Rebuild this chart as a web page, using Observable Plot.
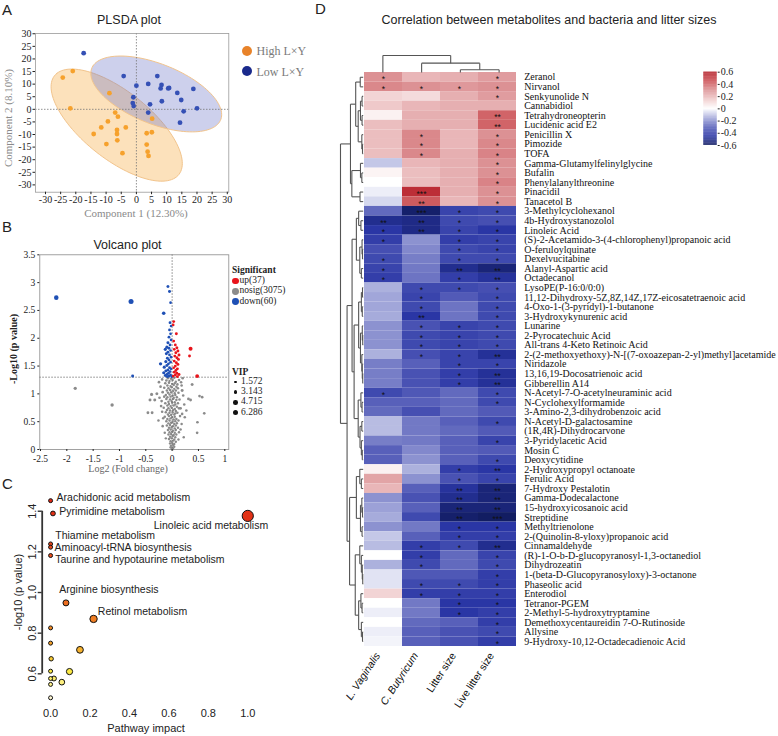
<!DOCTYPE html>
<html><head><meta charset="utf-8">
<script src="https://cdn.jsdelivr.net/npm/d3@7"></script>
<script src="https://cdn.jsdelivr.net/npm/@observablehq/plot@0.6"></script>
<style>
body{margin:0;background:#fff;}
#fig{position:relative;width:778px;height:736px;overflow:hidden;background:#fff;font-family:"Liberation Sans",Arial,sans-serif;color:#222;}
.abs{position:absolute;}
.abs svg{overflow:visible;display:block;}
.lbl{position:absolute;white-space:nowrap;line-height:1;}
</style></head><body><div id="fig"></div>
<script>
// ---------------- DATA ----------------
// Panel A: PLS-DA scores
const plsdaHigh = [[-24.3,12.6],[-21.0,15.2],[-21.8,0.4],[-8.9,6.4],[-7.0,-1.3],[-6.1,-2.9],[-9.4,-4.8],[-11.6,-7.2],[-14.1,-9.8],[-6.4,-8.2],[-6.4,-9.8],[-3.5,-7.2],[-6.3,-12.3],[-9.9,-13.8],[-4.6,-17.4],[5.2,-3.7],[5.1,-9.1],[3.4,-9.5],[3.4,-14.0],[3.7,-16.8],[4.0,-18.5]];
const plsdaLow = [[-17.4,22.3],[-4.2,13.2],[0.0,9.4],[6.9,13.2],[3.9,10.1],[8.3,9.7],[8.0,8.3],[10.5,8.3],[10.8,8.5],[13.5,6.5],[18.8,8.1],[14.8,3.7],[-1.0,4.8],[-1.2,2.5],[-0.9,1.3],[4.5,2.0],[8.4,3.2],[15.6,-0.8],[20.0,0.4],[3.9,-1.3],[14.4,-5.3]];
const plsdaTicks = [-30,-25,-20,-15,-10,-5,0,5,10,15,20,25,30];
const plsdaGroups = ["High L×Y","Low L×Y"];

// Panel B: volcano [log2FC, -log10 p, VIP]
const volcanoDown = [[-2.20,2.73,4.6],[-0.78,2.66,5.6],[-0.08,2.93,2.0],[-0.05,2.84,2.0],[-0.03,2.64,1.6],[-0.16,2.45,2.8],[-0.75,1.32,2.0],[-0.22,1.54,2.4],
[-0.04,2.28,1.8],[-0.02,2.22,1.6],[-0.05,2.15,1.7],[-0.03,2.08,1.6],[-0.06,2.02,1.8],[-0.02,1.97,1.6],[-0.08,1.92,2.0],[-0.04,1.88,1.7],[-0.10,1.84,2.2],[-0.06,1.82,1.8],[-0.13,1.80,2.2],[-0.03,1.78,1.6],[-0.08,1.75,1.9],[-0.11,1.72,2.0],[-0.05,1.70,1.7],[-0.02,1.66,1.6],[-0.09,1.64,1.9],[-0.06,1.61,1.8],[-0.12,1.58,2.1],[-0.03,1.57,1.6],[-0.07,1.54,1.8],[-0.10,1.51,2.0],[-0.15,1.48,2.2],[-0.05,1.47,1.7],[-0.02,1.45,1.6],[-0.08,1.43,1.9],[-0.12,1.41,2.0],[-0.04,1.40,1.7],[-0.16,1.38,2.1],[-0.07,1.37,1.8],[-0.10,1.35,1.9],[-0.03,1.34,1.6],[-0.13,1.33,2.0],[-0.06,1.32,1.8],[-0.01,1.31,1.6],[-0.09,1.31,1.9]];
const volcanoUp = [[0.03,2.30,1.8],[0.02,2.24,1.6],[0.08,2.08,1.9],[0.35,1.81,3.6],[0.33,1.68,1.8],[0.475,1.32,3.2],
[0.03,1.95,1.7],[0.06,1.88,1.8],[0.09,1.83,2.0],[0.04,1.80,1.7],[0.11,1.77,1.9],[0.07,1.74,1.8],[0.13,1.70,2.0],[0.05,1.68,1.7],[0.09,1.65,1.9],[0.12,1.62,1.9],[0.04,1.59,1.7],[0.08,1.56,1.8],[0.11,1.53,1.9],[0.06,1.50,1.8],[0.03,1.47,1.6],[0.10,1.45,1.9],[0.07,1.42,1.8],[0.04,1.39,1.7],[0.09,1.37,1.8],[0.13,1.35,2.0],[0.06,1.34,1.7],[0.02,1.32,1.6],[0.10,1.31,1.8]];
const volcanoNosig = [[-1.84,1.10,2.4],[-1.14,0.80,2.6],[-0.46,0.66,1.8],[-0.38,0.66,1.8],[-0.29,1.00,2.0],[0.38,1.17,2.0],[0.52,0.96,1.6],[0.31,0.91,1.8],[0.61,0.65,1.6],[0.475,0.30,1.6],[-0.39,0.99,2.2],[-0.42,0.89,2.0],[-0.33,0.89,2.0],[0.19,1.06,2.0],[0.35,0.89,1.8],[0.57,0.94,1.6],[0.48,0.49,1.6],[0.16,0.74,1.8],[0.13,1.25,1.6],[0.20,1.28,1.5],[-0.25,1.21,1.6],[-0.21,0.78,1.6],[0.24,0.58,1.5],[-0.18,0.42,1.5],[0.22,0.22,1.4],
[-0.22,1.13,1.6],[0.18,1.15,1.5],[-0.24,0.93,1.6],[0.21,0.97,1.5],[-0.19,0.68,1.5],[0.19,0.64,1.5],[0.23,0.81,1.5],[-0.17,0.56,1.4],[0.18,0.46,1.4],[-0.14,0.30,1.4],[0.16,0.36,1.4],[-0.12,0.20,1.3],[0.12,0.18,1.3],[0.27,0.70,1.5],[-0.26,0.52,1.4],[0.17,1.21,1.5],[-0.19,1.26,1.5],
[-0.08,1.28,1.4],[-0.02,1.27,1.3],[0.04,1.29,1.4],[-0.11,1.24,1.5],[-0.05,1.23,1.3],[0.01,1.25,1.3],[0.07,1.22,1.4],[-0.13,1.19,1.5],[-0.06,1.20,1.4],[0.00,1.18,1.3],[0.05,1.19,1.3],[0.10,1.17,1.5],[-0.09,1.15,1.4],[-0.03,1.14,1.3],[0.03,1.16,1.3],[0.08,1.13,1.4],[-0.15,1.11,1.5],[-0.07,1.10,1.4],[-0.01,1.12,1.3],[0.04,1.09,1.3],[0.11,1.10,1.5],[-0.10,1.06,1.4],[-0.04,1.07,1.3],[0.02,1.05,1.3],[0.07,1.06,1.4],[-0.18,1.03,1.6],[-0.08,1.02,1.4],[-0.02,1.03,1.3],[0.05,1.01,1.3],[0.12,1.02,1.5],[-0.12,0.98,1.4],[-0.05,0.99,1.3],[0.01,0.97,1.3],[0.06,0.98,1.4],[-0.15,0.95,1.5],[-0.09,0.94,1.4],[-0.03,0.95,1.3],[0.03,0.93,1.3],[0.09,0.94,1.4],[-0.11,0.91,1.4],[-0.04,0.90,1.3],[0.02,0.91,1.3],[0.08,0.89,1.4],[0.14,0.90,1.5],[-0.20,0.87,1.6],[-0.07,0.86,1.4],[-0.01,0.87,1.3],[0.05,0.85,1.3],[-0.13,0.83,1.5],[-0.06,0.82,1.3],[0.00,0.84,1.3],[0.06,0.81,1.3],[0.11,0.83,1.4],[-0.09,0.79,1.4],[-0.03,0.78,1.3],[0.03,0.79,1.3],[0.09,0.77,1.4],[-0.16,0.75,1.5],[-0.07,0.74,1.4],[-0.01,0.75,1.3],[0.05,0.73,1.3],[0.13,0.74,1.5],[-0.10,0.71,1.4],[-0.04,0.70,1.3],[0.02,0.71,1.3],[0.07,0.69,1.4],[-0.12,0.67,1.4],[-0.05,0.66,1.3],[0.01,0.67,1.3],[0.06,0.65,1.3],[0.10,0.66,1.4],[-0.08,0.63,1.3],[-0.02,0.62,1.3],[0.04,0.63,1.3],[-0.14,0.59,1.5],[-0.06,0.60,1.3],[0.00,0.58,1.3],[0.05,0.59,1.3],[0.15,0.60,1.5],[-0.09,0.55,1.4],[-0.03,0.56,1.3],[0.03,0.54,1.3],[0.08,0.55,1.4],[-0.11,0.51,1.4],[-0.05,0.52,1.3],[0.01,0.50,1.3],[0.06,0.51,1.3],[0.12,0.52,1.4],[-0.07,0.47,1.3],[-0.02,0.48,1.3],[0.04,0.46,1.3],[0.09,0.47,1.4],[-0.10,0.43,1.4],[-0.04,0.44,1.3],[0.02,0.42,1.3],[0.07,0.43,1.3],[-0.06,0.39,1.3],[-0.01,0.40,1.3],[0.05,0.38,1.3],[0.11,0.39,1.4],[-0.08,0.35,1.3],[-0.03,0.36,1.3],[0.02,0.34,1.3],[0.07,0.35,1.3],[-0.05,0.31,1.3],[0.00,0.32,1.3],[0.05,0.30,1.3],[0.13,0.31,1.4],[-0.07,0.27,1.3],[-0.02,0.28,1.3],[0.03,0.26,1.3],[0.08,0.27,1.3],[-0.04,0.23,1.3],[0.01,0.24,1.3],[0.06,0.22,1.3],[-0.06,0.19,1.3],[-0.01,0.20,1.3],[0.04,0.18,1.3],[-0.03,0.15,1.3],[0.02,0.16,1.3],[0.07,0.14,1.3],[-0.04,0.11,1.3],[0.00,0.12,1.3],[0.04,0.10,1.3],[-0.02,0.07,1.3],[0.02,0.08,1.3],[-0.03,0.04,1.3],[0.01,0.03,1.3],[0.04,0.05,1.3],[-0.01,0.01,1.3],[0.02,0.01,1.3]];
const volcanoXTicks = [-2.5,-2,-1.5,-1,-0.5,0,0.5,1];
const volcanoYTicks = [0,0.5,1,1.5,2,2.5,3,3.5];
const sigLegend = ["up(37)","nosig(3075)","down(60)"];
const vipLegend = [1.572,3.143,4.715,6.286];

// Panel C: pathway analysis
const pathNames = ["Arachidonic acid metabolism","Pyrimidine metabolism","Linoleic acid metabolism","Thiamine metabolism","Aminoacyl-tRNA biosynthesis","Taurine and hypotaurine metabolism","Arginine biosynthesis","Retinol metabolism","","","","","","","","","","",""];
const pathImpact = [0,0.012,1.0,0,0,0,0.078,0.218,0,0,0.003,0.149,0.096,0,0,0.017,0.057,0,0];
const pathLogP = [1.452,1.389,1.377,1.239,1.223,1.182,0.949,0.870,0.826,0.751,0.674,0.718,0.611,0.613,0.577,0.577,0.559,0.548,0.482];
const pathTicksX = [0,0.2,0.4,0.6,0.8,1.0];
const pathTicksY = [0.6,0.8,1.0,1.2,1.4];

// Panel D: correlation heatmap
const columns = ["L. Vaginalis","C. Butyricum","Litter size","Live litter size"];
const metabolites = ["Zeranol","Nirvanol","Senkyunolide N","Cannabidiol","Tetrahydroneopterin","Lucidenic acid E2","Penicillin X","Pimozide","TOFA","Gamma-Glutamylfelinylglycine","Bufalin","Phenylalanylthreonine","Pinacidil","Tanacetol B","3-Methylcyclohexanol","4b-Hydroxystanozolol","Linoleic Acid","(S)-2-Acetamido-3-(4-chlorophenyl)propanoic acid","O-feruloylquinate","Dexelvucitabine","Alanyl-Aspartic acid","Octadecanol","LysoPE(P-16:0/0:0)","11,12-Dihydroxy-5Z,8Z,14Z,17Z-eicosatetraenoic acid","4-Oxo-1-(3-pyridyl)-1-butanone","3-Hydroxykynurenic acid","Lunarine","2-Pyrocatechuic Acid","All-trans 4-Keto Retinoic Acid","2-(2-methoxyethoxy)-N-[(7-oxoazepan-2-yl)methyl]acetamide","Niridazole","13,16,19-Docosatrienoic acid","Gibberellin A14","N-Acetyl-7-O-acetylneuraminic acid","N-Cyclohexylformamide","3-Amino-2,3-dihydrobenzoic acid","N-Acetyl-D-galactosamine","(1R,4R)-Dihydrocarvone","3-Pyridylacetic Acid","Mosin C","Deoxycytidine","2-Hydroxypropyl octanoate","Ferulic Acid","7-Hydroxy Pestalotin","Gamma-Dodecalactone","15-hydroxyicosanoic acid","Streptidine","Methyltrienolone","2-(Quinolin-8-yloxy)propanoic acid","Cinnamaldehyde","(R)-1-O-b-D-glucopyranosyl-1,3-octanediol","Dihydrozeatin","1-(beta-D-Glucopyranosyloxy)-3-octanone","Phaseolic acid","Enterodiol","Tetranor-PGEM","2-Methyl-5-hydroxytryptamine","Demethoxycentaureidin 7-O-Rutinoside","Allysine","9-Hydroxy-10,12-Octadecadienoic Acid"];
const corrLV = [0.30,0.32,0.12,0.15,0.04,0.18,0.18,0.18,0.18,-0.10,0.03,0.00,-0.03,-0.07,-0.28,-0.50,-0.45,-0.42,-0.36,-0.38,-0.40,-0.42,-0.14,-0.16,-0.16,-0.15,-0.20,-0.20,-0.20,-0.14,-0.24,-0.24,-0.24,-0.38,-0.30,-0.28,-0.12,-0.12,-0.24,-0.30,-0.30,0.04,0.25,0.20,-0.20,-0.17,-0.15,-0.20,-0.10,-0.12,0.00,-0.14,-0.05,-0.05,0.12,0.00,-0.03,0.00,-0.03,-0.02];
const corrCB = [0.20,0.30,0.10,0.20,0.22,0.22,0.32,0.32,0.32,0.20,0.18,0.18,0.55,0.42,-0.58,-0.52,-0.52,-0.20,-0.22,-0.24,-0.25,-0.26,-0.38,-0.40,-0.38,-0.45,-0.35,-0.38,-0.38,-0.36,-0.30,-0.35,-0.35,-0.33,-0.30,-0.36,-0.25,-0.25,-0.25,-0.22,-0.20,-0.14,-0.20,-0.30,-0.35,-0.30,-0.38,-0.25,-0.30,-0.42,-0.42,-0.38,-0.33,-0.38,-0.42,-0.25,-0.25,-0.28,-0.30,-0.30];
const corrLS = [0.22,0.28,0.22,0.22,0.22,0.22,0.20,0.20,0.22,0.22,0.22,0.22,0.22,0.20,-0.40,-0.38,-0.40,-0.42,-0.38,-0.38,-0.50,-0.42,-0.38,-0.32,-0.26,-0.26,-0.40,-0.40,-0.40,-0.40,-0.40,-0.42,-0.42,-0.28,-0.28,-0.28,-0.30,-0.28,-0.30,-0.30,-0.30,-0.42,-0.35,-0.47,-0.50,-0.55,-0.58,-0.45,-0.42,-0.38,-0.28,-0.28,-0.33,-0.38,-0.42,-0.45,-0.45,-0.30,-0.35,-0.35];
const corrLLS = [0.27,0.30,0.27,0.22,0.40,0.40,0.30,0.32,0.33,0.30,0.30,0.33,0.30,0.30,-0.38,-0.36,-0.45,-0.40,-0.40,-0.38,-0.55,-0.47,-0.36,-0.38,-0.38,-0.38,-0.38,-0.38,-0.38,-0.48,-0.40,-0.48,-0.48,-0.38,-0.38,-0.32,-0.38,-0.32,-0.40,-0.32,-0.38,-0.45,-0.40,-0.55,-0.55,-0.55,-0.60,-0.45,-0.42,-0.50,-0.40,-0.38,-0.42,-0.42,-0.42,-0.45,-0.42,-0.42,-0.38,-0.42];
const sigLV = ["*","*","","","","","","","","","","","","","","**","*","*","","*","*","*","","","","","","","","","","","","*","","","","","","","","","","","","","","","","","","","","","","","","","",""];
const sigCB = ["","*","","","","","*","*","*","","","","***","**","***","**","**","","","","","","*","*","*","**","*","*","*","*","","","","","","","","","","","","","","","","","","","","*","*","*","","*","*","","","","",""];
const sigLS = ["","*","","","","","","","","","","","","","*","*","*","*","*","*","**","*","*","","","","*","*","*","*","*","*","*","","","","","","","","","*","*","**","**","**","**","*","*","*","","","","*","*","*","*","","",""];
const sigLLS = ["*","*","*","","**","**","*","*","*","*","*","*","*","*","*","*","*","*","*","*","**","**","*","*","*","*","*","*","*","**","*","**","**","*","*","","*","","*","","*","**","*","**","**","**","***","*","*","**","*","*","*","*","*","*","*","*","*","*"];
// hierarchical clustering trees: [height, left, right], leaves are indices
const colTree = [1.0, 0, [0.55, 1, [0.16, 2, 3]]];
const rowTree = [1.0,
  [0.56,
    [0.33, [0.13,0,1], [0.22, [0.12,[0.05,2,3],[0.05,4,5]], [0.06,6,[0.03,7,8]]]],
    [0.50, [0.12,9,[0.06,10,11]], [0.14,12,13]]],
  [0.71,
    [0.49,
      [0.30, [0.20,14,[0.10,15,16]], [0.15,[0.05,17,[0.03,18,19]],[0.08,20,21]]],
      [0.40,
        [0.20, [0.08,[0.03,22,23],[0.04,24,25]], [0.12,[0.04,26,[0.02,27,28]],[0.06,29,[0.04,30,[0.02,31,32]]]]],
        [0.22, [0.10,33,[0.05,34,35]], [0.14,[0.06,36,37],[0.08,38,[0.04,39,40]]]]]],
    [0.60,
      [0.30, [0.15,41,[0.08,42,43]], [0.12,[0.06,44,[0.03,45,46]],[0.05,47,48]]],
      [0.35, [0.15,49,[0.08,50,[0.04,51,[0.02,52,53]]]], [0.20,[0.10,54,[0.05,55,56]],[0.08,57,[0.03,58,59]]]]]]];
const colorbarTicks = [-0.6,-0.4,-0.2,0,0.2,0.4,0.6];

// ---------------- HELPERS ----------------
const fig = document.getElementById("fig");
const SERIF = "'Liberation Serif','Times New Roman',serif";
const SANS = "'Liberation Sans',Arial,sans-serif";
function put(node, left, top) {
  const w = document.createElement("div");
  w.className = "abs"; w.style.left = left + "px"; w.style.top = top + "px";
  w.appendChild(node); fig.appendChild(w);
}
function label(text, x, y, css = {}, anchor = "start") {
  const d = document.createElement("div");
  d.className = "lbl"; d.textContent = text;
  d.style.left = x + "px"; d.style.top = y + "px";
  d.style.transform = anchor === "middle" ? "translate(-50%,-50%)" : anchor === "end" ? "translate(-100%,-50%)" : "translate(0,-50%)";
  Object.assign(d.style, css); fig.appendChild(d); return d;
}
function swatch(x, y, r, color) {
  const d = document.createElement("div");
  d.className = "lbl";
  Object.assign(d.style, {left: (x - r) + "px", top: (y - r) + "px", width: 2*r + "px", height: 2*r + "px", borderRadius: "50%", background: color});
  fig.appendChild(d);
}
const hy = d => String(d); // hyphen minus tick labels

// confidence ellipse from covariance of scores (95%)
function confEllipse(pts, k = 2.4477, n = 120) {
  const mx = d3.mean(pts, d => d[0]), my = d3.mean(pts, d => d[1]);
  let sxx = 0, syy = 0, sxy = 0;
  for (const [x, y] of pts) { sxx += (x-mx)**2; syy += (y-my)**2; sxy += (x-mx)*(y-my); }
  const m = pts.length - 1; sxx /= m; syy /= m; sxy /= m;
  const tr = sxx + syy, det = sxx*syy - sxy*sxy, disc = Math.sqrt(tr*tr/4 - det);
  const l1 = tr/2 + disc, l2 = tr/2 - disc;
  const th = Math.atan2(l1 - sxx, sxy);
  const a = k*Math.sqrt(l1), b = k*Math.sqrt(l2);
  return d3.range(n + 1).map(i => {
    const t = 2*Math.PI*i/n;
    return [mx + a*Math.cos(t)*Math.cos(th) - b*Math.sin(t)*Math.sin(th),
            my + a*Math.cos(t)*Math.sin(th) + b*Math.sin(t)*Math.cos(th)];
  });
}

// ---------------- PANEL A ----------------
const colHigh = "#f6a12c", colLow = "#3550b5";
const plotA = Plot.plot({
  width: 240, height: 215, marginLeft: 35, marginTop: 33, marginRight: 11.7, marginBottom: 23.3,
  x: {domain: [-33.3, 30.5]}, y: {domain: [-32.9, 30.1]},
  style: {fontFamily: SERIF, fontSize: "10px", color: "#222", background: "transparent"},
  marks: [
    Plot.line(confEllipse(plsdaHigh), {x: d => d[0], y: d => d[1], fill: "#f5a83c", fillOpacity: 0.35, stroke: "#f2c48c", strokeWidth: 1}),
    Plot.line(confEllipse(plsdaLow), {x: d => d[0], y: d => d[1], fill: "#7079c8", fillOpacity: 0.35, stroke: "#f2c48c", strokeWidth: 1}),
    Plot.ruleX([0], {stroke: "#777", strokeDasharray: "1.5,1.5", strokeWidth: 0.8}),
    Plot.ruleY([0], {stroke: "#777", strokeDasharray: "1.5,1.5", strokeWidth: 0.8}),
    Plot.dot(plsdaHigh, {x: d => d[0], y: d => d[1], r: 2.4, fill: colHigh}),
    Plot.dot(plsdaLow, {x: d => d[0], y: d => d[1], r: 2.4, fill: colLow}),
    Plot.frame({stroke: "#9a9a9a", strokeWidth: 0.8}),
    Plot.axisX({ticks: plsdaTicks, tickFormat: hy, tickSize: 2.5, tickPadding: 1.5, label: null}),
    Plot.axisY({ticks: plsdaTicks, tickFormat: hy, tickSize: 2.5, tickPadding: 1.5, label: null})
  ]
});
put(plotA, 0, 0);
label("A", 2, 9, {fontSize: "15px", fontFamily: SANS});
label("PLSDA plot", 129, 20, {fontSize: "12.5px", fontFamily: SANS}, "middle");
label("Component 1 (12.30%)", 136, 213, {fontSize: "11px", fontFamily: SERIF, color: "#8a8a8a"}, "middle");
const yA = label("Component 2 (8.10%)", 8, 118, {fontSize: "11px", fontFamily: SERIF, color: "#8a8a8a"}, "middle");
yA.style.transform = "translate(-50%,-50%) rotate(-90deg)";
swatch(246.7, 50.7, 5.2, "#e8832a");
swatch(246.7, 71, 5.2, "#1a2a8c");
label(plsdaGroups[0], 256.5, 51, {fontSize: "12px", fontFamily: SERIF, color: "#7a7a7a"});
label(plsdaGroups[1], 256.5, 71.5, {fontSize: "12px", fontFamily: SERIF, color: "#7a7a7a"});

// ---------------- PANEL B ----------------
const colUp = "#e8141b", colNo = "#8b8b8b", colDown = "#1f50b5";
const rScaleB = {type: "sqrt", domain: [0, 7], range: [0, 2.8]};
const plotB = Plot.plot({
  width: 240, height: 245, marginLeft: 39.3, marginTop: 24.3, marginRight: 11.7, marginBottom: 26,
  x: {domain: [-2.513, 1.076]}, y: {domain: [0, 3.5]}, r: rScaleB,
  style: {fontFamily: SERIF, fontSize: "9.5px", color: "#222", background: "transparent"},
  marks: [
    Plot.dot(volcanoNosig, {x: d => d[0], y: d => d[1], r: d => d[2], fill: colNo}),
    Plot.ruleY([1.3], {stroke: "#666", strokeDasharray: "1.5,1.5", strokeWidth: 0.8}),
    Plot.ruleX([0], {stroke: "#666", strokeDasharray: "1.5,1.5", strokeWidth: 0.8}),
    Plot.dot(volcanoDown, {x: d => d[0], y: d => d[1], r: d => d[2], fill: colDown}),
    Plot.dot(volcanoUp, {x: d => d[0], y: d => d[1], r: d => d[2], fill: colUp}),
    Plot.frame({stroke: "#8a8a8a", strokeWidth: 0.8}),
    Plot.axisX({ticks: volcanoXTicks, tickFormat: hy, tickSize: 2, tickPadding: 4, label: null}),
    Plot.axisY({ticks: volcanoYTicks, tickFormat: hy, tickSize: 2, tickPadding: 2.5, label: null})
  ]
});
put(plotB, 0, 230);
label("B", 2, 226, {fontSize: "15px", fontFamily: SANS});
label("Volcano plot", 127.5, 245, {fontSize: "12.5px", fontFamily: SANS}, "middle");
label("Log2 (Fold change)", 128, 469, {fontSize: "10px", fontFamily: SERIF, color: "#666"}, "middle");
const yB = label("-Log10 (p value)", 14, 349, {fontSize: "10px", fontFamily: SERIF, fontWeight: "bold"}, "middle");
yB.style.transform = "translate(-50%,-50%) rotate(-90deg)";
label("Significant", 232, 271, {fontSize: "9.5px", fontFamily: SERIF, fontWeight: "bold"});
[colUp, colNo, colDown].forEach((c, i) => {
  const y = 281 + i * 10.3;
  swatch(235.5, y, 3.4, c);
  label(sigLegend[i], 239.5, y, {fontSize: "9.5px", fontFamily: SERIF});
});
label("VIP", 232, 372.5, {fontSize: "9.5px", fontFamily: SERIF, fontWeight: "bold"});
vipLegend.forEach((v, i) => {
  const y = 382 + i * 10.2;
  swatch(235.5, y, Math.sqrt(v / 7) * 2.8, "#111");
  label(String(v), 241, y, {fontSize: "9.5px", fontFamily: SERIF});
});

// ---------------- PANEL C ----------------
const pathways = pathNames.map((n, i) => ({name: n, impact: pathImpact[i], logp: pathLogP[i]}));
const labelNudge = [[6,-2.7,"start"],[6.3,-2,"start"],[20.4,9.7,"end"],[4.7,-8.6,"start"],[4,0.6,"start"],[4.7,4.2,"start"],[-6.7,-13,"start"],[4.3,-7.3,"start"]];
const xdomC = [-0.0425, 1.06];
const plotC = Plot.plot({
  width: 330, height: 256, marginLeft: 41.7, marginTop: 10.4, marginRight: 70.9, marginBottom: 32.2,
  x: {domain: xdomC}, y: {domain: [0.45, 1.5]},
  r: {type: "sqrt", domain: [0, 1], range: [2, 5.6]},
  color: {type: "linear", domain: [0.5, 0.62, 0.75, 0.9, 1.45], range: ["#fff6c0", "#fbe83a", "#f5a12a", "#ee7420", "#e02814"]},
  style: {fontFamily: SANS, fontSize: "11px", color: "#222", background: "transparent"},
  marks: [
    Plot.ruleX([xdomC[0]], {y1: pathTicksY[0], y2: pathTicksY[pathTicksY.length - 1], stroke: "#333", strokeWidth: 1.8}),
    Plot.axisY({ticks: pathTicksY, tickFormat: () => "", tickSize: 4, label: null, stroke: "#333", strokeWidth: 1.4}),
    Plot.text(pathTicksY, {x: xdomC[0], y: d => d, text: d => d3.format(".1f")(d), rotate: -90, dx: -10, textAnchor: "middle", fontSize: 11}),
    Plot.axisX({ticks: pathTicksX, tickFormat: ".1f", tickSize: 0, tickPadding: 5, label: null}),
    Plot.dot(pathways, {x: "impact", y: "logp", r: "impact", fill: "logp", stroke: "#111", strokeWidth: 1}),
    ...labelNudge.map(([dx, dy, a], i) => Plot.text([pathways[i]], {x: "impact", y: "logp", text: "name", dx, dy, textAnchor: a, fontSize: 10.5, fill: "#222"}))
  ]
});
put(plotC, 0, 480);
label("C", 2, 483, {fontSize: "15px", fontFamily: SANS});
label("Pathway impact", 146, 728, {fontSize: "11px", fontFamily: SANS}, "middle");
const yC = label("-log10  (p value)", 17.5, 592, {fontSize: "11px", fontFamily: SANS}, "middle");
yC.style.transform = "translate(-50%,-50%) rotate(-90deg)";

// ---------------- PANEL D ----------------
const heatColor = {type: "linear", domain: [-0.6, -0.45, -0.3, -0.15, 0, 0.15, 0.3, 0.45, 0.6],
  range: ["#121d62", "#2a36a5", "#5860ba", "#a6abdb", "#ffffff", "#efc9ca", "#dc9194", "#cb4d52", "#b41f29"], interpolate: "rgb"};
const corrCols = [corrLV, corrCB, corrLS, corrLLS];
const sigCols = [sigLV, sigCB, sigLS, sigLLS];
const cells = [];
metabolites.forEach((m, i) => columns.forEach((c, j) => cells.push({met: m, col: c, v: corrCols[j][i], s: sigCols[j][i]})));
const italicCols = columns.slice(0, 2), plainCols = columns.slice(2);
const plotD = Plot.plot({
  width: 448, height: 696, marginTop: 32, marginBottom: 90, marginLeft: 32.7, marginRight: 260.3,
  x: {domain: columns, padding: 0, axis: null}, y: {domain: metabolites, padding: 0, axis: null},
  color: heatColor,
  style: {fontFamily: SERIF, fontSize: "10px", color: "#111", background: "transparent"},
  marks: [
    Plot.cell(cells, {x: "col", y: "met", fill: "v"}),
    Plot.text(cells.filter(d => d.s), {x: "col", y: "met", text: "s", fontSize: 8.5, fontFamily: SANS, dy: 2.2, fill: "#111"}),
    Plot.axisY({anchor: "right", tickSize: 0, tickPadding: 6, label: null, fontSize: 10}),
    Plot.text(italicCols, {x: d => d, frameAnchor: "bottom", text: d => d, rotate: -57, textAnchor: "end", dy: 9, dx: -3, fontStyle: "italic", fontFamily: SANS, fontSize: 10.5}),
    Plot.text(plainCols, {x: d => d, frameAnchor: "bottom", text: d => d, rotate: -57, textAnchor: "end", dy: 9, dx: -3, fontFamily: SANS, fontSize: 10.5})
  ]
});
put(plotD, 330, 40);

function treeSegments(tree) {
  const segs = [];
  (function walk(node) {
    if (typeof node === "number") return {pos: node, h: 0};
    const [h, L, R] = node;
    const l = walk(L), r = walk(R);
    segs.push({p1: l.pos, h1: l.h, p2: l.pos, h2: h});
    segs.push({p1: r.pos, h1: r.h, p2: r.pos, h2: h});
    segs.push({p1: l.pos, h1: h, p2: r.pos, h2: h});
    return {pos: (l.pos + r.pos) / 2, h};
  })(tree);
  return segs;
}
const rowDendro = Plot.plot({
  width: 32.7, height: 574, marginLeft: 10, marginRight: 0, marginTop: 0, marginBottom: 0,
  x: {domain: [1, 0], axis: null}, y: {domain: [-0.5, metabolites.length - 0.5], reverse: true, axis: null},
  style: {background: "transparent"},
  marks: [Plot.link(treeSegments(rowTree), {x1: "h1", y1: "p1", x2: "h2", y2: "p2", stroke: "#555", strokeWidth: 1.1})]
});
put(rowDendro, 330, 72);
const colDendro = Plot.plot({
  width: 155, height: 22, marginLeft: 0, marginRight: 0, marginTop: 5, marginBottom: 0,
  x: {domain: [-0.5, columns.length - 0.5], axis: null}, y: {domain: [0, 1], axis: null},
  style: {background: "transparent"},
  marks: [Plot.link(treeSegments(colTree), {x1: "p1", y1: "h1", x2: "p2", y2: "h2", stroke: "#555", strokeWidth: 1.1})]
});
put(colDendro, 362.7, 50);

// colorbar
const rampStep = 0.01;
const ramp = d3.range(-0.6, 0.6 - 1e-9, rampStep);
const colorbar = Plot.plot({
  width: 50, height: 90, marginLeft: 3.3, marginRight: 33.3, marginTop: 6.7, marginBottom: 10,
  x: {domain: [0, 1], axis: null}, y: {domain: [-0.6, 0.6]}, color: heatColor,
  style: {fontFamily: SERIF, fontSize: "10px", color: "#222", background: "transparent"},
  marks: [
    Plot.rect(ramp, {x1: 0, x2: 1, y1: d => d, y2: d => d + rampStep + 0.002, fill: d => d + rampStep / 2}),
    Plot.axisY({anchor: "right", ticks: colorbarTicks, tickFormat: d => (Math.abs(d) < 1e-9 ? "0" : hy(+d.toFixed(1))), tickSize: 2, tickPadding: 1.5, label: null})
  ]
});
put(colorbar, 700, 65);

label("D", 315, 8, {fontSize: "15px", fontFamily: SANS});
label("Correlation between metabolites and bacteria and litter sizes", 549, 20, {fontSize: "12.5px", fontFamily: SANS, color: "#222"}, "middle");
</script></body></html>
